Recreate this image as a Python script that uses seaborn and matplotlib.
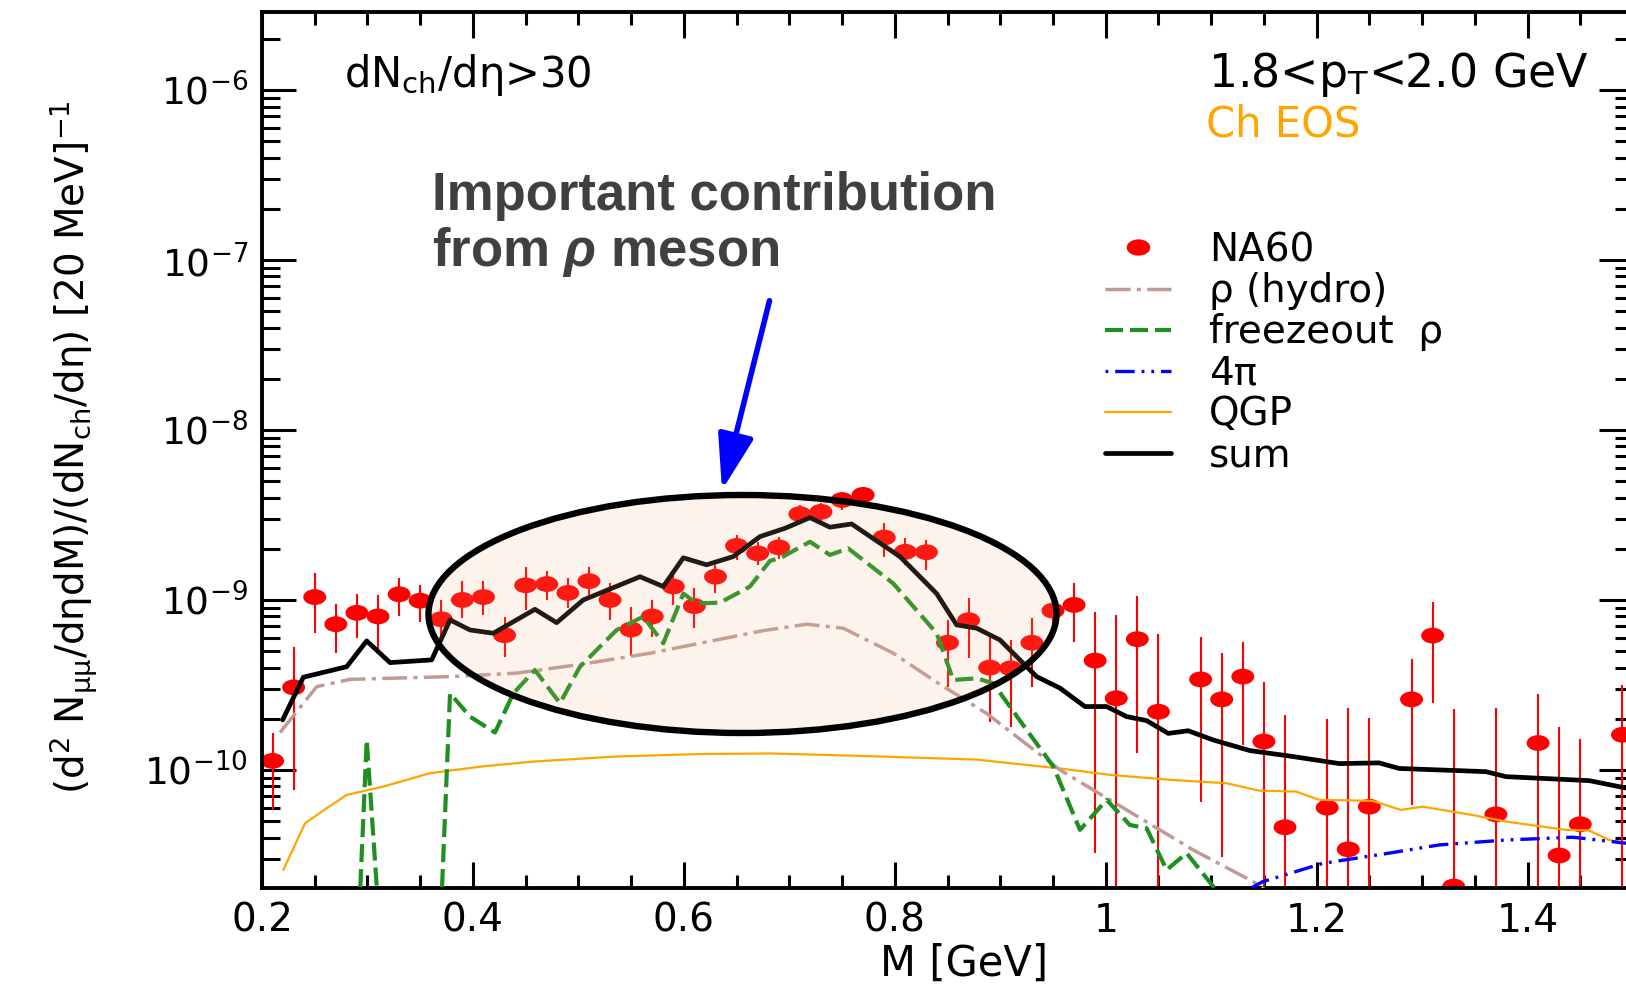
import numpy as np
import matplotlib
matplotlib.use("Agg")
import matplotlib.pyplot as plt
import seaborn as sns
from matplotlib.patches import Ellipse, FancyArrowPatch
from matplotlib.path import Path
from matplotlib.transforms import Affine2D
from matplotlib.lines import Line2D
from matplotlib.ticker import (MultipleLocator, FuncFormatter, LogLocator, NullFormatter,
                               FixedLocator)

# NA60 data points (M in GeV, yield, lower / upper end of the error bar)
na60_m = [0.21, 0.23, 0.25, 0.27, 0.29, 0.31, 0.33, 0.35, 0.37, 0.39, 0.41, 0.43,
          0.45, 0.47, 0.49, 0.51, 0.53, 0.55, 0.57, 0.59, 0.61, 0.63, 0.65, 0.67,
          0.69, 0.71, 0.73, 0.75, 0.77, 0.79, 0.81, 0.83, 0.85, 0.87, 0.89, 0.91,
          0.93, 0.95, 0.97, 0.99, 1.01, 1.03, 1.05, 1.09, 1.11, 1.13, 1.15, 1.17,
          1.21, 1.23, 1.25, 1.29, 1.31, 1.33, 1.37, 1.41, 1.43, 1.45, 1.49]
na60_y = [1.13e-10, 3.06e-10, 1.04e-9, 7.2e-10, 8.4e-10, 8.0e-10, 1.08e-9, 9.9e-10,
          7.7e-10, 1.0e-9, 1.04e-9, 6.2e-10, 1.22e-9, 1.24e-9, 1.10e-9, 1.29e-9,
          1.0e-9, 6.7e-10, 8.0e-10, 1.20e-9, 9.2e-10, 1.37e-9, 2.08e-9, 1.88e-9,
          2.04e-9, 3.2e-9, 3.3e-9, 3.87e-9, 4.15e-9, 2.33e-9, 1.92e-9, 1.91e-9,
          5.6e-10, 7.6e-10, 4.0e-10, 3.96e-10, 5.6e-10, 8.65e-10, 9.35e-10, 4.4e-10,
          2.64e-10, 5.88e-10, 2.2e-10, 3.41e-10, 2.6e-10, 3.54e-10, 1.47e-10, 4.6e-11,
          6.0e-11, 3.41e-11, 6.08e-11, 2.6e-10, 6.17e-10, 2.06e-11, 5.48e-11, 1.44e-10,
          3.14e-11, 4.79e-11, 1.61e-10]
na60_lo = [5.8e-11, 7.6e-11, 6.4e-10, 4.9e-10, 6.0e-10, 5.1e-10, 8.0e-10, 7.4e-10,
           5.8e-10, 7.8e-10, 8.2e-10, 4.6e-10, 8.7e-10, 1.0e-9, 9.0e-10, 1.06e-9,
           7.6e-10, 4.7e-10, 6.05e-10, 9.35e-10, 6.84e-10, 1.1e-9, 1.72e-9, 1.6e-9,
           1.75e-9, 2.8e-9, 2.9e-9, 3.4e-9, 3.7e-9, 1.79e-9, 1.6e-9, 1.5e-9,
           3.09e-10, 4.54e-10, 1.92e-10, 1.8e-10, 3.09e-10, 6.5e-10, 5.69e-10, 3.24e-11,
           1e-11, 1.25e-10, 1e-11, 6.52e-11, 3.09e-11, 1.4e-10, 1e-11, 1e-11,
           1e-11, 1e-11, 1e-11, 6.23e-11, 2.47e-10, 1e-11, 1e-11, 1e-11,
           1e-11, 1e-11, 1e-11]
na60_hi = [1.65e-10, 5.3e-10, 1.44e-9, 9.5e-10, 1.08e-9, 1.07e-9, 1.35e-9, 1.22e-9,
           1.0e-9, 1.29e-9, 1.29e-9, 7.9e-10, 1.56e-9, 1.48e-9, 1.35e-9, 1.56e-9,
           1.26e-9, 9.1e-10, 1.0e-9, 1.44e-9, 1.18e-9, 1.61e-9, 2.41e-9, 2.2e-9,
           2.35e-9, 3.6e-9, 3.7e-9, 4.3e-9, 4.6e-9, 2.84e-9, 2.3e-9, 2.25e-9,
           7.6e-10, 1.02e-9, 6.4e-10, 5.82e-10, 7.8e-10, 1.1e-9, 1.26e-9, 8.53e-10,
           8.16e-10, 1.06e-9, 6.3e-10, 6.08e-10, 4.86e-10, 5.69e-10, 3.27e-10, 2.11e-10,
           1.99e-10, 2.32e-10, 2.03e-10, 4.5e-10, 9.77e-10, 2.27e-10, 2.32e-10, 2.79e-10,
           1.8e-10, 1.53e-10, 3.16e-10]

# model curves
hydro_m = [0.2171, 0.2519, 0.2834, 0.3783, 0.4415, 0.5046, 0.5679, 0.6311, 0.6753,
           0.7165, 0.7511, 0.7986, 0.8365, 0.8871, 0.9566, 1.0198, 1.083, 1.1399, 1.16]
hydro_y = [1.66e-10, 3.09e-10, 3.41e-10, 3.54e-10, 3.71e-10, 4.2e-10, 4.86e-10, 5.82e-10,
           6.6e-10, 7.2e-10, 6.82e-10, 4.86e-10, 3.38e-10, 2.15e-10, 1.0e-10, 5.82e-11,
           3.38e-11, 2.2e-11, 1.8e-11]

freeze_m = [0.284, 0.2993, 0.3087, 0.3095, 0.362, 0.3783, 0.3972, 0.4209, 0.4383,
            0.4588, 0.4825, 0.5015, 0.5363, 0.5615, 0.5805, 0.5995, 0.6122, 0.6342,
            0.6627, 0.6817, 0.6912, 0.7196, 0.7385, 0.7559, 0.7986, 0.8397, 0.8555,
            0.8776, 0.8934, 0.925, 0.9503, 0.9756, 1.0009, 1.023, 1.0388, 1.0578,
            1.0767, 1.102, 1.11]
freeze_y = [1e-12, 1.5e-10, 2.1e-11, 1e-12, 1e-12, 2.82e-10, 2.06e-10, 1.66e-10, 2.82e-10,
            3.87e-10, 2.47e-10, 4.05e-10, 6.66e-10, 7.98e-10, 5.56e-10, 1.09e-9, 9.55e-10,
            9.64e-10, 1.2e-9, 1.7e-9, 1.76e-9, 2.2e-9, 1.84e-9, 2.01e-9, 1.25e-9,
            6.37e-10, 3.38e-10, 3.46e-10, 3.23e-10, 1.72e-10, 1.05e-10, 4.44e-11,
            6.67e-11, 4.74e-11, 4.54e-11, 2.58e-11, 3.24e-11, 2.06e-11, 1.5e-11]

fourpi_m = [1.13, 1.1488, 1.2057, 1.2688, 1.3162, 1.3795, 1.4427, 1.4929, 1.5]
fourpi_y = [1.9e-11, 2.2e-11, 2.82e-11, 3.24e-11, 3.62e-11, 3.87e-11, 4.02e-11, 3.71e-11, 3.65e-11]

qgp_m = [0.2202, 0.2408, 0.2613, 0.2803, 0.315, 0.3593, 0.4098, 0.4572, 0.5363, 0.6153,
         0.6817, 0.767, 0.8776, 0.9566, 1.004, 1.0634, 1.1147, 1.1456, 1.1804, 1.2025,
         1.2531, 1.2799, 1.3005, 1.3479, 1.3795, 1.4364, 1.4585, 1.4775, 1.4929]
qgp_y = [2.58e-11, 4.85e-11, 5.95e-11, 7.13e-11, 7.98e-11, 9.57e-11, 1.05e-10, 1.12e-10,
         1.2e-10, 1.24e-10, 1.25e-10, 1.21e-10, 1.15e-10, 1.02e-10, 9.35e-11, 8.73e-11,
         8.35e-11, 7.55e-11, 7.46e-11, 6.67e-11, 6.58e-11, 5.82e-11, 6.08e-11, 5.43e-11,
         4.97e-11, 4.44e-11, 4.4e-11, 3.87e-11, 3.71e-11]

sum_m = [0.2196, 0.2392, 0.2803, 0.2993, 0.3214, 0.3609, 0.3783, 0.3972, 0.4193, 0.4588,
         0.4794, 0.5046, 0.5584, 0.5805, 0.5995, 0.6216, 0.6469, 0.6722, 0.6959, 0.7196,
         0.7385, 0.7591, 0.8049, 0.8397, 0.8587, 0.8776, 0.8997, 0.9345, 0.9566, 0.9803,
         1.0009, 1.0198, 1.0388, 1.0593, 1.0782, 1.102, 1.1367, 1.1772, 1.2214, 1.2593,
         1.2783, 1.3162, 1.3605, 1.3795, 1.4585, 1.4901, 1.5]
sum_y = [1.97e-10, 3.51e-10, 4.05e-10, 5.74e-10, 4.28e-10, 4.44e-10, 7.63e-10, 6.66e-10,
         6.37e-10, 8.81e-10, 7.35e-10, 1.0e-9, 1.37e-9, 1.2e-9, 1.77e-9, 1.61e-9, 1.8e-9,
         2.36e-9, 2.64e-9, 3.05e-9, 2.68e-9, 2.8e-9, 1.8e-9, 1.09e-9, 7.13e-10, 6.82e-10,
         5.82e-10, 3.54e-10, 3.03e-10, 2.36e-10, 2.36e-10, 2.06e-10, 1.95e-10, 1.64e-10,
         1.7e-10, 1.5e-10, 1.3e-10, 1.2e-10, 1.09e-10, 1.1e-10, 1.02e-10, 1.0e-10,
         9.77e-11, 9.13e-11, 8.65e-11, 7.9e-11, 7.7e-11]

y_major = [1e-10, 1e-9, 1e-8, 1e-7, 1e-6]
legend_labels = ["NA60", "ρ (hydro)", "freezeout  ρ", "4π", "QGP", "sum"]

sns.set_style("ticks")
plt.rcParams["font.family"] = ["DejaVu Sans"]
plt.rcParams["text.color"] = "black"
plt.rcParams["axes.labelcolor"] = "black"
plt.rcParams["mathtext.fontset"] = "custom"
plt.rcParams["mathtext.rm"] = "DejaVu Sans"
plt.rcParams["mathtext.it"] = "Liberation Sans:italic:bold"
plt.rcParams["mathtext.bf"] = "DejaVu Sans:bold"
plt.rcParams["mathtext.sf"] = "DejaVu Sans"
plt.rcParams["lines.scale_dashes"] = False

hydro_col = "#bf9b98"
freeze_col = "#1f8f1f"
hydro_ls = (0, (18, 4.5, 3, 4.5))
freeze_ls = (0, (13, 5))
fourpi_ls = (0, (2, 5, 14, 5, 2, 5))

# slightly wide ellipse marker like the original
ell = Path.unit_circle().transformed(Affine2D().scale(1.45, 1.0))

fig = plt.figure(figsize=(16.26, 9.86), dpi=100)
ax = fig.add_axes([262 / 1626, 98 / 986, 1371 / 1626, 876.3 / 986])
ax.set_yscale("log")

# data points
yerr = [np.array(na60_y) - np.array(na60_lo), np.array(na60_hi) - np.array(na60_y)]
ax.errorbar(na60_m, na60_y, yerr=yerr, fmt="none", ecolor="#ff0000", elinewidth=1.5,
            capsize=0, zorder=2)
sns.scatterplot(x=na60_m, y=na60_y, ax=ax, marker=ell, s=16.5 ** 2, color="#ff0000",
                edgecolor="none", linewidth=0, zorder=2.5)

# curves
sns.lineplot(x=qgp_m, y=qgp_y, ax=ax, color="#ffa500", linewidth=1.6,
             sort=False, estimator=None, zorder=3)
sns.lineplot(x=hydro_m, y=hydro_y, ax=ax, color=hydro_col, linewidth=2.5,
             linestyle=hydro_ls, sort=False, estimator=None, zorder=3)
sns.lineplot(x=freeze_m, y=freeze_y, ax=ax, color=freeze_col, linewidth=3.0,
             linestyle=freeze_ls, sort=False, estimator=None, zorder=3)
sns.lineplot(x=fourpi_m, y=fourpi_y, ax=ax, color="#0000ff", linewidth=2.4,
             linestyle=fourpi_ls, sort=False, estimator=None, zorder=3)
sns.lineplot(x=sum_m, y=sum_y, ax=ax, color="black", linewidth=3.4,
             sort=False, estimator=None, zorder=3.5)

ax.set_xlim(0.2, 1.5)
ax.set_ylim(2.02e-11, 2.89e-6)

# axes / ticks
ax.xaxis.set_major_locator(MultipleLocator(0.2))
ax.xaxis.set_minor_locator(MultipleLocator(0.05))
ax.xaxis.set_major_formatter(FuncFormatter(lambda v, p: f"{v:g}"))
ax.yaxis.set_major_locator(FixedLocator(y_major))
ax.yaxis.set_minor_locator(LogLocator(base=10, subs=np.arange(2, 10), numticks=100))
ax.yaxis.set_minor_formatter(NullFormatter())
ax.tick_params(which="both", direction="in", top=True, right=True, width=2.2,
               color="black", labelcolor="black")
ax.tick_params(axis="y", which="major", length=24.5, pad=10, labelsize=27)
ax.tick_params(axis="y", which="minor", length=13)
ax.tick_params(axis="x", which="major", length=19, pad=10, labelsize=28)
ax.tick_params(axis="x", which="minor", length=9.5)
for sp in ax.spines.values():
    sp.set_linewidth(2.8)
    sp.set_color("black")

ax.set_xlabel("M [GeV]", fontsize=30)
ax.xaxis.set_label_coords(0.512, -0.062)
ax.set_ylabel(r"(d$^{2}$ N$_{\mathrm{\mu\mu}}$/dηdM)/(dN$_{\mathrm{ch}}$/dη) [20 MeV]$^{-1}$",
              fontsize=28)
ax.yaxis.set_label_coords(-0.118, 0.503)

# annotations
fig.text(344 / 1626, 1 - 87 / 986, r"dN$_{\mathrm{ch}}$/dη>30", fontsize=30, va="baseline")
fig.text(1207.6 / 1626, 1 - 87.3 / 986, r"1.8<p$_{\mathrm{T}}$<2.0 GeV", fontsize=33,
         va="baseline")
fig.text(1205.6 / 1626, 1 - 136.7 / 986, "Ch EOS", color="#ffa500", fontsize=30,
         va="baseline")
fig.text(431.7 / 1626, 1 - 210 / 986, "Important contribution", fontsize=38,
         fontweight="bold", family="Liberation Sans", color="#404040", va="baseline")
fig.text(431.7 / 1626, 1 - 266 / 986, r"from $\rho$ meson", fontsize=38,
         fontweight="bold", family="Liberation Sans", color="#404040", va="baseline")

ellipse = Ellipse((742.5 / 1626, 1 - 614 / 986), 628 / 1626, 238 / 986,
                  transform=fig.transFigure, facecolor=(0.94, 0.7, 0.5, 0.15),
                  edgecolor="black", linewidth=4.6, zorder=6)
ax.add_patch(ellipse)

arrow = FancyArrowPatch((769.5 / 1626, 1 - 300.7 / 986), (722 / 1626, 1 - 490 / 986),
                        transform=fig.transFigure, arrowstyle="-|>,head_length=34,head_width=11",
                        mutation_scale=1, color="#0000ff", linewidth=4, shrinkA=0, shrinkB=0)
fig.add_artist(arrow)

# legend
handles = [
    Line2D([], [], ls="none", marker=ell, markersize=17, color="#ff0000", markeredgewidth=0),
    Line2D([], [], color=hydro_col, lw=2.5, linestyle=hydro_ls),
    Line2D([], [], color=freeze_col, lw=3.0, linestyle=freeze_ls),
    Line2D([], [], color="#0000ff", lw=2.4, linestyle=fourpi_ls),
    Line2D([], [], color="#ffa500", lw=1.6),
    Line2D([], [], color="black", lw=3.4),
]
fig.legend(handles, legend_labels, loc="upper left",
           bbox_to_anchor=(1104.6 / 1626, 1 - 231 / 986), frameon=False, fontsize=28,
           handlelength=1.72, handletextpad=0.97, labelspacing=0.08, borderpad=0,
           borderaxespad=0)

fig.savefig("out.png", dpi=100)
